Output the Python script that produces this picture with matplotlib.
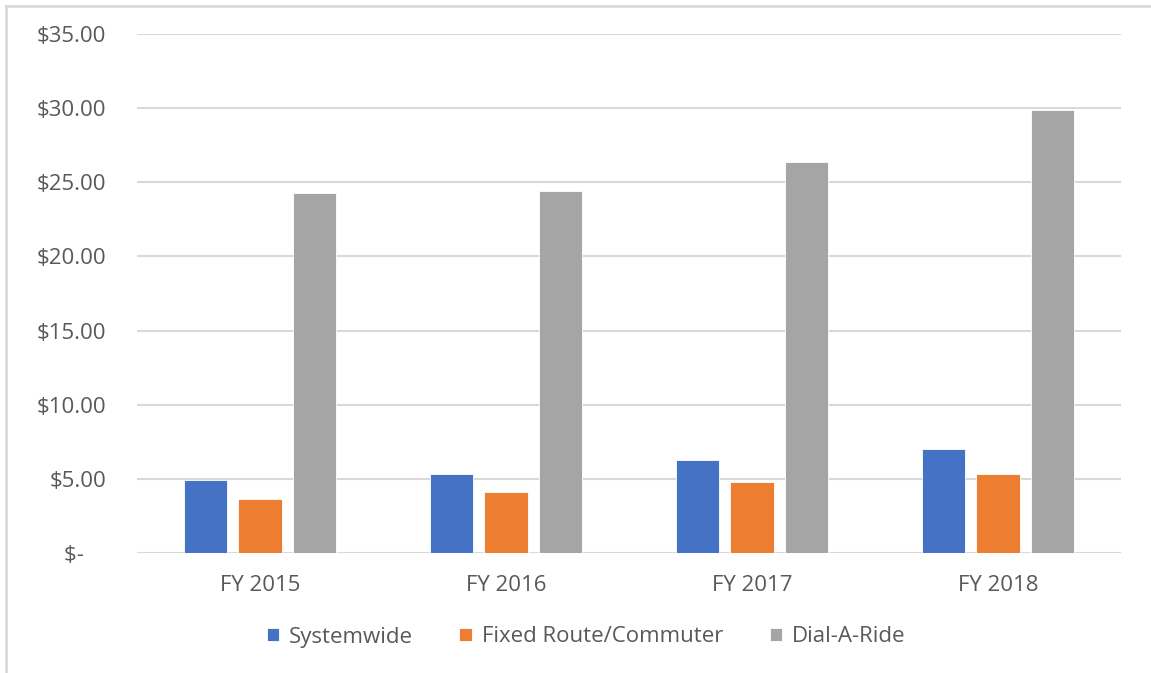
import numpy as np
import matplotlib
matplotlib.use('Agg')
import matplotlib.pyplot as plt
from matplotlib.lines import Line2D

# cost per passenger by fiscal year
years = ['FY 2015', 'FY 2016', 'FY 2017', 'FY 2018']
systemwide = [4.93, 5.36, 6.28, 7.00]
fixed_route = [3.65, 4.08, 4.78, 5.36]
dial_a_ride = [24.30, 24.40, 26.40, 29.90]

series = [('Systemwide', systemwide, '#4472C4'),
          ('Fixed Route/Commuter', fixed_route, '#ED7D31'),
          ('Dial-A-Ride', dial_a_ride, '#A5A5A5')]

yticks = [0, 5, 10, 15, 20, 25, 30, 35]
ylabels = ['$-    ', '$5.00', '$10.00', '$15.00', '$20.00', '$25.00', '$30.00', '$35.00']

plt.rcParams['font.family'] = ['Open Sans', 'DejaVu Sans']
text_color = '#595959'
grid_color = '#D9D9D9'
fs = 16

fig = plt.figure(figsize=(11.51, 6.73), dpi=100)
ax = fig.add_axes([137 / 1151, 1 - 553 / 673, (1121 - 137) / 1151, (553 - 34) / 673])

x = np.arange(len(years))
width = 0.175
step = 0.22
handles = []
for i, (name, vals, col) in enumerate(series):
    b = ax.bar(x + (i - 1) * step, vals, width, color=col, edgecolor='white',
               linewidth=0.6, label=name, zorder=3)
    handles.append(b)

ax.set_xlim(-0.5, 3.5)
ax.set_ylim(0, 35)
ax.set_yticks(yticks)
ax.set_yticklabels(ylabels)
ax.set_xticks(x)
ax.set_xticklabels(years)
ax.tick_params(axis='both', length=0, labelsize=fs, labelcolor=text_color)
ax.tick_params(axis='x', pad=16)
ax.tick_params(axis='y', pad=22)
ax.grid(axis='y', color=grid_color, linewidth=1.5, zorder=0)
for s in ax.spines.values():
    s.set_visible(False)

fig.legend(handles=handles, loc='center', bbox_to_anchor=(586 / 1151, 1 - 637 / 673),
           ncol=3, frameon=False, fontsize=fs, labelcolor=text_color,
           handlelength=0.55, handleheight=0.55, handletextpad=0.45, columnspacing=2.1)

# light frame along the left and top edges
fig.add_artist(Line2D([6 / 1151, 6 / 1151], [0, 1 - 6 / 673], transform=fig.transFigure,
                      color=grid_color, linewidth=2))
fig.add_artist(Line2D([6 / 1151, 1], [1 - 6 / 673, 1 - 6 / 673], transform=fig.transFigure,
                      color=grid_color, linewidth=2))

fig.savefig('out.png', dpi=100)
